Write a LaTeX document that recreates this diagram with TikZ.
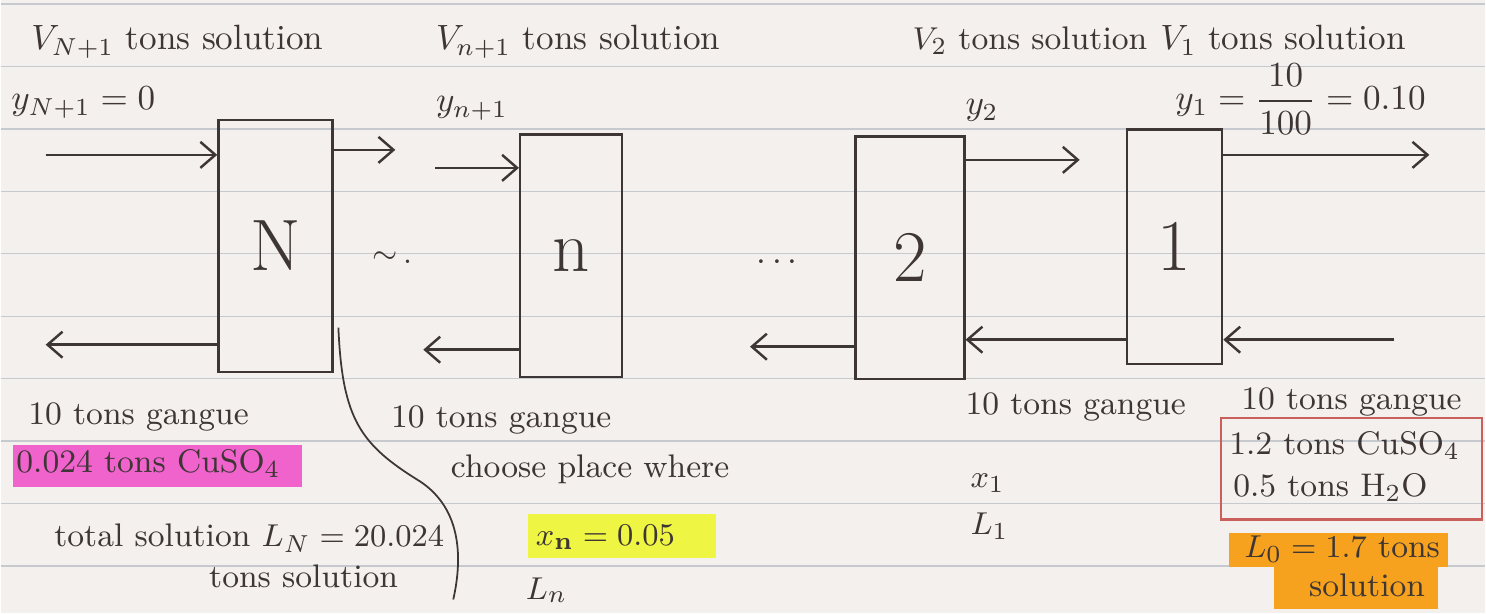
\documentclass[tikz,border=0pt]{standalone}
\usepackage{tikz}
\usetikzlibrary{arrows.meta,positioning}
\definecolor{paper}{HTML}{F4F0EE}
\definecolor{ruling}{HTML}{C6CACF}
\definecolor{ink}{HTML}{3E3634}
\definecolor{pinkhl}{HTML}{F062CC}
\definecolor{yellowhl}{HTML}{EEF542}
\definecolor{orangehl}{HTML}{F6A21E}
\definecolor{redpen}{HTML}{C9605C}
\tikzset{
	stage/.style={draw=ink, line width=0.7pt, text=ink, font=\huge, inner sep=0pt},
	flow/.style={draw=ink, line width=0.7pt, -{Straight Barb[length=1.5mm, width=2.6mm]}},
	note/.style={text=ink, anchor=base west, inner sep=0pt, font=\fontsize{9.3}{11}\selectfont},
	head/.style={note, font=\normalsize},
}

\begin{document}
\begin{tikzpicture}[x=0.01cm, y=-0.01cm]
			%%%%% START %%%%%
			
			\fill[paper] (0, 0) rectangle (1486, 614);
			\foreach \r in {4,66.5,...,610}
				\draw[line width=0.4pt, color=ruling] (0, \r) -- (1486, \r);
			\useasboundingbox (0, 0) rectangle (1486, 614);
			
			\fill[pinkhl] (12, 445) rectangle (302, 487);
			\fill[yellowhl] (528, 514) rectangle (716, 559);
			\fill[orangehl] (1229, 533) rectangle (1449, 568);
			\fill[orangehl] (1274, 562) rectangle (1439, 610);
			\draw[line width=0.6pt, color=redpen] (1221, 418) rectangle (1483, 520);
			
			\node[stage, minimum width=1.14cm, minimum height=2.52cm] (N) at (275, 246) {N};
			\node[stage, minimum width=1.02cm, minimum height=2.43cm] (n) at (571, 256) {n};
			\node[stage, minimum width=1.09cm, minimum height=2.43cm] (two) at (910, 258) {2};
			\node[stage, minimum width=0.95cm, minimum height=2.35cm] (one) at (1175, 247) {1};
			
			\node[text=ink, font=\small] (gapa) at (392, 258) {$\sim$\,.};
			\node[text=ink] (gapb) at (777, 262) {.\,.\,.};
			
			\coordinate (vinN) at (45, 155);
			\coordinate (voutN) at (395, 150);
			\coordinate (vinn) at (435, 168);
			\coordinate (loutN) at (45, 345);
			\coordinate (loutn) at (423, 350);
			\coordinate (vout2) at (1080, 160);
			\coordinate (lout2) at (750, 347);
			\coordinate (lin2) at (1000, 340);
			\coordinate (vout1) at (1430, 155);
			\coordinate (lin1) at (1395, 340);
			
			\draw[flow] (vinN) -- (vinN -| N.west);
			\draw[flow] (voutN -| N.east) -- (voutN);
			\draw[flow] (vinn) -- (vinn -| n.west);
			\draw[flow] (loutN -| N.west) -- (loutN);
			\draw[flow] (loutn -| n.west) -- (loutn);
			\draw[flow] (vout2 -| two.east) -- (vout2);
			\draw[flow] (lout2 -| two.west) -- (lout2);
			\draw[flow] (lin2 -| one.west) -- (lin2 -| two.east);
			\draw[flow] (vout1 -| one.east) -- (vout1);
			\draw[flow] (lin1) -- (lin1 -| one.east);
			
			\draw[line width=0.5pt, color=ink] (338, 328) .. controls (342, 420) and (360, 445) .. (420, 482) .. controls (462, 510) and (462, 560) .. (453, 600);
			
			\node[head] (vN) at (30, 50) {$V_{N+1}$ tons solution};
			\node[head] (vn) at (435, 50) {$V_{n+1}$ tons solution};
			\node[note] (v2) at (912, 50) {$V_2$ tons solution};
			\node[head] (v1) at (1160, 50) {$V_1$ tons solution};
			
			\node[head] (yN) at (10, 110) {$y_{N+1} = 0$};
			\node[head] (yn) at (435, 112) {$y_{n+1}$};
			\node[head] (y2) at (965, 115) {$y_2$};
			\node[head] (y1) at (1175, 110) {$y_1 = \displaystyle\frac{10}{100} = 0.10$};
			
			\node[note] (gN) at (27, 425) {10 tons gangue};
			\node[note] (cuN) at (15, 473) {0.024 tons CuSO$_4$};
			\node[note] (LN) at (53, 547) {total solution $L_N = 20.024$};
			\node[note] (LNu) at (208, 588) {tons solution};
			
			\node[note] (gn) at (390, 428) {10 tons gangue};
			\node[note] (ch) at (450, 478) {choose place where};
			\node[note] (xn) at (535, 546) {$x_{\mathbf{n}} = 0.05$};
			\node[note] (Ln) at (525, 600) {$L_n$};
			
			\node[note] (g2) at (965, 415) {10 tons gangue};
			\node[note] (x1) at (970, 488) {$x_1$};
			\node[note] (L1) at (970, 535) {$L_1$};
			
			\node[note] (g1) at (1241, 410) {10 tons gangue};
			\node[note] (cu1) at (1229, 455) {1.2 tons CuSO$_4$};
			\node[note] (h1) at (1233, 497) {0.5 tons H$_2$O};
			\node[note] (L0) at (1244, 558) {$L_0 = 1.7$ tons};
			\node[note] (L0u) at (1309, 597) {solution};
			
			%%%%% END %%%%%
\end{tikzpicture}
\end{document}
